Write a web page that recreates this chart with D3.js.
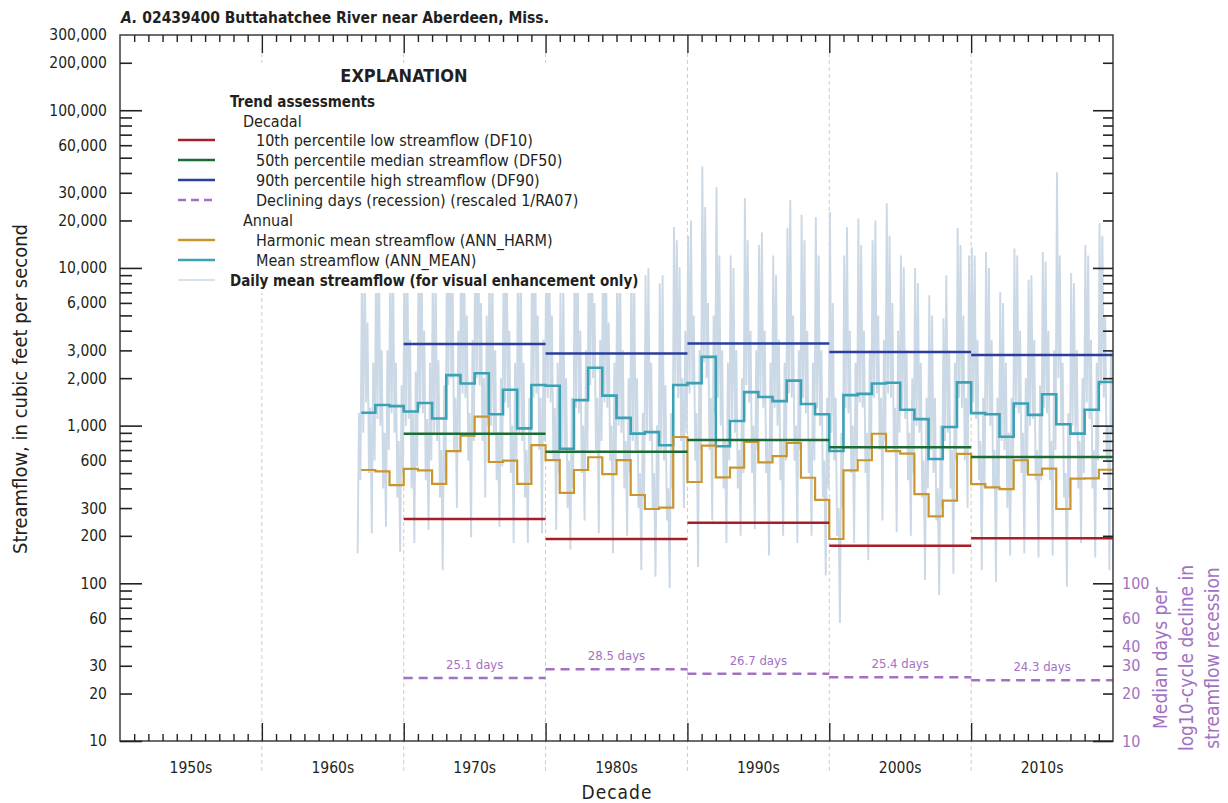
<!DOCTYPE html>
<html>
<head>
<meta charset="utf-8">
<script src="https://cdn.jsdelivr.net/npm/d3@7"></script>
<style>
  body { margin: 0; background: #fff; }
  svg text { font-family: 'Liberation Sans Narrow', 'Arial Narrow', 'DejaVu Sans Condensed', sans-serif; fill: #231f20; }
</style>
</head>
<body>
<div id="chart"></div>
<script>
// decade labels along the bottom
var decadeLabels = ["1950s", "1960s", "1970s", "1980s", "1990s", "2000s", "2010s"];
var decadeStarts = [1950, 1960, 1970, 1980, 1990, 2000, 2010, 2020];

// decadal trend values (1970s..2010s)
var trendDecades = [1970, 1980, 1990, 2000, 2010];
var df10 = [256, 191, 242, 173, 193];
var df50 = [888, 683, 810, 729, 632];
var df90 = [3290, 2870, 3320, 2930, 2800];
var declDays = [25.1, 28.5, 26.7, 25.4, 24.3];

// annual values, 1967..2019
var annYears = d3.range(1967, 2020);
var annMean = [1207, 1350, 1330, 1230, 1390, 1110, 2090, 1850, 2150, 1180, 1690, 960, 1810,
    1790, 714, 1450, 2330, 1550, 1120, 890, 910, 750, 1810,
    1860, 2730, 740, 1070, 1630, 1520, 1430, 1930, 1370, 1180,
    690, 1560, 1590, 1850, 1870, 1260, 1100, 614, 980, 1880,
    1200, 1180, 850, 1380, 1170, 1580, 1020, 890, 1260, 1890];
var annHarm = [523, 513, 420, 531, 520, 427, 690, 863, 1140, 588, 600, 427, 753,
    605, 375, 523, 630, 493, 605, 363, 296, 302, 847,
    439, 746, 470, 541, 787, 585, 641, 776, 467, 338,
    191, 520, 603, 888, 690, 664, 368, 266, 334, 661,
    425, 406, 396, 603, 488, 533, 296, 461, 463, 525];

// daily mean streamflow, thinned: year, then 10 readings through the year (peaks and troughs)
var dailyRows = [
    [1966, null, null, null, null, null, null, null, 155, 1200, 450],
    [1967, 9000, 900, 12000, 1400, 4500, 500, 1300, 208, 2500, 600],
    [1968, 11000, 1100, 15000, 1000, 3000, 400, 900, 228, 3000, 700],
    [1969, 10000, 1200, 12000, 900, 2500, 350, 800, 158, 1800, 500],
    [1970, 12000, 1000, 14000, 1100, 3500, 400, 1200, 180, 2200, 550],
    [1971, 13000, 1300, 16000, 1200, 4000, 450, 1100, 218, 2500, 600],
    [1972, 9000, 900, 11000, 800, 2600, 350, 700, 121, 1800, 450],
    [1973, 18000, 1800, 25000, 2000, 8000, 700, 1500, 300, 4000, 900],
    [1974, 20000, 1600, 16000, 1500, 5000, 600, 1200, 196, 3500, 800],
    [1975, 22000, 2000, 24000, 1800, 6000, 800, 2000, 350, 5000, 1000],
    [1976, 12000, 1000, 10000, 900, 3000, 450, 900, 228, 2000, 550],
    [1977, 15000, 1400, 20000, 1300, 4000, 500, 1000, 180, 2500, 600],
    [1978, 10000, 900, 12000, 800, 2500, 350, 700, 180, 1500, 450],
    [1979, 18000, 1500, 22000, 1600, 5000, 700, 1500, 208, 3500, 800],
    [1980, 16000, 1500, 20000, 1400, 5000, 600, 1300, 218, 2500, 500],
    [1981, 7000, 700, 9000, 700, 2000, 300, 600, 164, 1500, 400],
    [1982, 14000, 1300, 15000, 1200, 4000, 500, 1000, 250, 3000, 700],
    [1983, 20000, 1800, 25000, 2000, 6000, 700, 1500, 208, 3500, 800],
    [1984, 15000, 1400, 18000, 1300, 4500, 600, 1000, 155, 2500, 600],
    [1985, 10000, 1000, 12000, 900, 3000, 400, 800, 200, 2000, 500],
    [1986, 12400, 800, 9000, 700, 2000, 300, 500, 121, 1200, 350],
    [1987, 9000, 900, 10000, 800, 2500, 300, 500, 110, 1000, 300],
    [1988, 8000, 700, 9000, 600, 1800, 250, 400, 93, 1200, 400],
    [1989, 18200, 1800, 15000, 1500, 10100, 800, 2000, 300, 4000, 900],
    [1990, 16000, 1600, 20000, 1800, 5000, 600, 1200, 127, 3000, 700],
    [1991, 44000, 2500, 24300, 2000, 6000, 700, 1500, 250, 5000, 1200],
    [1992, 32600, 1500, 12000, 1000, 3000, 400, 800, 180, 2500, 600],
    [1993, 12000, 1100, 10000, 900, 3000, 400, 700, 200, 2000, 500],
    [1994, 27700, 1800, 15000, 1400, 4000, 500, 1000, 220, 3000, 700],
    [1995, 14000, 1500, 16800, 1300, 4000, 500, 800, 150, 2500, 600],
    [1996, 12000, 1300, 9000, 1000, 3500, 450, 800, 200, 2500, 600],
    [1997, 18000, 1600, 27000, 1500, 5000, 600, 1000, 180, 3000, 700],
    [1998, 21700, 1500, 15000, 1200, 4000, 500, 800, 200, 2500, 600],
    [1999, 21000, 1300, 12000, 1000, 3000, 350, 600, 112, 1500, 400],
    [2000, 22600, 900, 6000, 600, 1500, 200, 300, 56, 900, 300],
    [2001, 12000, 1300, 18200, 1200, 4000, 500, 1000, 180, 2500, 600],
    [2002, 20600, 1400, 14000, 1300, 4000, 500, 900, 140, 3000, 700],
    [2003, 15000, 1500, 20000, 1600, 5000, 700, 1500, 250, 3500, 800],
    [2004, 25700, 1600, 16000, 1500, 6000, 700, 1300, 211, 4000, 900],
    [2005, 12000, 1300, 10100, 1100, 3000, 450, 900, 200, 2000, 500],
    [2006, 10000, 1000, 8000, 900, 2500, 350, 600, 105, 1500, 400],
    [2007, 6700, 700, 5000, 500, 1500, 250, 400, 84, 1000, 300],
    [2008, 4800, 800, 9000, 900, 3000, 400, 700, 115, 2500, 600],
    [2009, 17900, 1500, 14000, 1300, 5000, 600, 1500, 300, 12000, 1200],
    [2010, 13500, 1400, 12000, 1100, 3500, 450, 800, 121, 1500, 400],
    [2011, 12600, 1200, 10000, 1000, 3500, 400, 700, 102, 1500, 400],
    [2012, 7000, 800, 6000, 700, 2500, 300, 900, 150, 1500, 400],
    [2013, 13300, 1300, 12000, 1200, 4000, 500, 900, 155, 2000, 500],
    [2014, 8400, 1000, 9000, 1100, 3500, 450, 700, 146, 1800, 450],
    [2015, 12600, 1300, 11000, 1200, 4000, 450, 800, 150, 3000, 700],
    [2016, 40500, 2000, 12000, 1000, 2500, 350, 500, 95, 1200, 350],
    [2017, 9300, 1000, 8000, 900, 3000, 400, 800, 180, 2000, 500],
    [2018, 14000, 1400, 12000, 1100, 3500, 400, 700, 146, 2500, 600],
    [2019, 19200, 1800, 16000, 1500, 5000, 600, 1000, 121, 3000, 900]
];

// tick values for the log axis
var yLabelTicks = [10, 20, 30, 60, 100, 200, 300, 600, 1000, 2000, 3000, 6000, 10000, 20000, 30000, 60000, 100000, 200000, 300000];
var yMajorTicks = [10, 100, 1000, 10000, 100000];
var yMinorTicks = [20, 30, 40, 50, 60, 70, 80, 90, 200, 300, 400, 500, 600, 700, 800, 900,
    2000, 3000, 4000, 5000, 6000, 7000, 8000, 9000, 20000, 30000, 40000, 50000, 60000, 70000, 80000, 90000, 200000];
var daysTicks = [10, 20, 30, 40, 60, 100];

var w = 1228, h = 803;
var plotL = 120, plotR = 1113, plotT = 35, plotB = 741;

var red = "#a81d26", green = "#1b6b35", blue = "#2b3e9c", purple = "#a272c2",
    gold = "#c9952f", teal = "#3ba1b5", daily = "#cbd8e5", axisCol = "#3c3c3c";

var xScale = d3.scaleLinear().domain([1950, 2020]).range([plotL, plotR]);
var yScale = d3.scaleLog().domain([10, 300000]).range([plotB, plotT]);

var svg = d3.select("#chart").append("svg")
    .attr("width", w)
    .attr("height", h);

// decade dividers (dashed)
svg.append("g").selectAll("line")
    .data(decadeStarts.slice(1, 7))
    .enter()
    .append("line")
    .attr("x1", function (d) { return xScale(d); })
    .attr("x2", function (d) { return xScale(d); })
    .attr("y1", plotT + 18)
    .attr("y2", plotB + 31)
    .attr("stroke", "#e2c6b6")
    .attr("stroke-width", 1)
    .attr("stroke-dasharray", "4,3");

// daily streamflow
var dailyPts = [];
dailyRows.forEach(function (r) {
    for (var i = 1; i < r.length; i++) {
        dailyPts.push({t: r[0] + (i - 0.5) / 10, v: r[i]});
    }
});
svg.append("path")
    .datum(dailyPts)
    .attr("fill", "none")
    .attr("stroke", daily)
    .attr("stroke-width", 1.9)
    .attr("stroke-linejoin", "bevel")
    .attr("d", d3.line()
        .defined(function (d) { return d.v != null; })
        .x(function (d) { return xScale(d.t); })
        .y(function (d) { return yScale(d.v); }));

// white box behind the explanation
svg.append("rect")
    .attr("x", 168).attr("y", 63)
    .attr("width", 474).attr("height", 230)
    .attr("fill", "#fff");

// annual step lines
function stepData(vals) {
    var pts = annYears.map(function (y, i) { return {t: y, v: vals[i]}; });
    pts.push({t: annYears[annYears.length - 1] + 1, v: vals[vals.length - 1]});
    return pts;
}
var stepLine = d3.line()
    .curve(d3.curveStepAfter)
    .x(function (d) { return xScale(d.t); })
    .y(function (d) { return yScale(d.v); });

svg.append("path").datum(stepData(annMean))
    .attr("fill", "none").attr("stroke", teal).attr("stroke-width", 2.6)
    .attr("d", stepLine);
svg.append("path").datum(stepData(annHarm))
    .attr("fill", "none").attr("stroke", gold).attr("stroke-width", 2.2)
    .attr("d", stepLine);

// decadal trend lines
function decadal(vals, col, dash) {
    svg.append("g").selectAll("line")
        .data(vals)
        .enter()
        .append("line")
        .attr("x1", function (d, i) { return xScale(trendDecades[i]); })
        .attr("x2", function (d, i) { return xScale(trendDecades[i] + 10); })
        .attr("y1", function (d) { return yScale(d); })
        .attr("y2", function (d) { return yScale(d); })
        .attr("stroke", col)
        .attr("stroke-width", 2.5)
        .attr("stroke-dasharray", dash);
}
decadal(df10, red, null);
decadal(df50, green, null);
decadal(df90, blue, null);
decadal(declDays, purple, "9,6");

svg.append("g").selectAll("text")
    .data(declDays)
    .enter()
    .append("text")
    .text(function (d) { return d.toFixed(1) + " days"; })
    .attr("text-anchor", "middle")
    .attr("x", function (d, i) { return xScale(trendDecades[i] + 5); })
    .attr("y", function (d) { return yScale(d) - 9; })
    .attr("font-size", "13px")
    .style("fill", purple);

// frame
svg.append("rect")
    .attr("x", plotL).attr("y", plotT)
    .attr("width", plotR - plotL).attr("height", plotB - plotT)
    .attr("fill", "none")
    .attr("stroke", axisCol)
    .attr("stroke-width", 1.5);

// y ticks, inside on both sides
function yTicks(x, vals, len, side) {
    var ax = side === "left" ? d3.axisRight(yScale) : d3.axisLeft(yScale);
    svg.append("g")
        .attr("transform", "translate(" + x + ",0)")
        .call(ax.tickValues(vals).tickSize(len).tickFormat(""))
        .call(function (g) {
            g.select(".domain").remove();
            g.selectAll("line").attr("stroke", "#222").attr("stroke-width", 1.6);
        });
}
yTicks(plotL, yMajorTicks, 22, "left");
yTicks(plotL, yMinorTicks, 12, "left");
yTicks(plotR, yMajorTicks, 20, "right");
yTicks(plotR, yMinorTicks, 10, "right");

// y labels
svg.append("g")
    .attr("transform", "translate(" + plotL + ",0)")
    .call(d3.axisLeft(yScale).tickValues(yLabelTicks).tickSize(0).tickPadding(13)
        .tickFormat(d3.format(",")))
    .call(function (g) {
        g.select(".domain").remove();
        g.selectAll("text").attr("font-size", "15.5px").style("font-family", null);
    });

// right labels, days
svg.append("g")
    .attr("transform", "translate(" + plotR + ",0)")
    .call(d3.axisRight(yScale).tickValues(daysTicks).tickSize(0).tickPadding(9)
        .tickFormat(d3.format("d")))
    .call(function (g) {
        g.select(".domain").remove();
        g.selectAll("text").attr("font-size", "16px").style("fill", purple).style("font-family", null);
    });

// x ticks, bottom and top
var yearTicks = d3.range(1951, 2020).filter(function (d) { return d % 10 !== 0; });
function xTicks(axis, y, vals, len) {
    svg.append("g")
        .attr("transform", "translate(0," + y + ")")
        .call(axis(xScale).tickValues(vals).tickSize(len).tickFormat(""))
        .call(function (g) {
            g.select(".domain").remove();
            g.selectAll("line").attr("stroke", "#222").attr("stroke-width", 1.4);
        });
}
xTicks(d3.axisBottom, plotB, yearTicks, -7);
xTicks(d3.axisBottom, plotB, decadeStarts.slice(1, 7), -18);
xTicks(d3.axisTop, plotT, yearTicks, -7);
xTicks(d3.axisTop, plotT, decadeStarts.slice(1, 7), -18);

// decade labels
svg.append("g").selectAll("text")
    .data(decadeLabels)
    .enter()
    .append("text")
    .text(function (d) { return d; })
    .attr("text-anchor", "middle")
    .attr("x", function (d, i) { return xScale(decadeStarts[i] + 5); })
    .attr("y", 773)
    .attr("font-size", "15.5px");

// axis titles
svg.append("text")
    .text("Decade")
    .attr("text-anchor", "middle")
    .attr("x", 617).attr("y", 799)
    .attr("font-size", "19px")
    .attr("letter-spacing", "1px");

svg.append("text")
    .text("Streamflow, in cubic feet per second")
    .attr("text-anchor", "middle")
    .attr("transform", "translate(27,389) rotate(-90)")
    .attr("font-size", "20px");

svg.append("g").selectAll("text")
    .data(["Median days per", "log10-cycle decline in", "streamflow recession"])
    .enter()
    .append("text")
    .text(function (d) { return d; })
    .attr("text-anchor", "middle")
    .attr("transform", function (d, i) { return "translate(" + (1167 + i * 26) + ",658) rotate(-90)"; })
    .attr("font-size", "19px")
    .style("fill", purple);

// title
var title = svg.append("text")
    .attr("x", 121).attr("y", 23)
    .attr("font-size", "15.5px")
    .attr("font-weight", "bold");
title.append("tspan").attr("font-style", "italic").text("A.");
title.append("tspan").text(" 02439400 Buttahatchee River near Aberdeen, Miss.");

// explanation
svg.append("text").text("EXPLANATION")
    .attr("x", 404).attr("y", 82).attr("text-anchor", "middle")
    .attr("font-size", "18px").attr("font-weight", "bold");
svg.append("text").text("Trend assessments")
    .attr("x", 230).attr("y", 107).attr("font-size", "15px").attr("font-weight", "bold");
svg.append("text").text("Decadal")
    .attr("x", 243).attr("y", 127).attr("font-size", "16px");
svg.append("text").text("Annual")
    .attr("x", 243).attr("y", 226).attr("font-size", "16px");

var legendItems = [
    {label: "10th percentile low streamflow (DF10)", col: red, y: 140},
    {label: "50th percentile median streamflow (DF50)", col: green, y: 160},
    {label: "90th percentile high streamflow (DF90)", col: blue, y: 180},
    {label: "Declining days (recession) (rescaled 1/RA07)", col: purple, y: 200, dash: "8,5"},
    {label: "Harmonic mean streamflow (ANN_HARM)", col: gold, y: 240},
    {label: "Mean streamflow (ANN_MEAN)", col: teal, y: 260}
];
var leg = svg.append("g").selectAll("g")
    .data(legendItems)
    .enter()
    .append("g");
leg.append("line")
    .attr("x1", 178).attr("x2", 215)
    .attr("y1", function (d) { return d.y; })
    .attr("y2", function (d) { return d.y; })
    .attr("stroke", function (d) { return d.col; })
    .attr("stroke-width", 2.4)
    .attr("stroke-dasharray", function (d) { return d.dash || null; });
leg.append("text")
    .text(function (d) { return d.label; })
    .attr("x", 256)
    .attr("y", function (d) { return d.y + 6; })
    .attr("font-size", "16px");

svg.append("line")
    .attr("x1", 178).attr("x2", 215).attr("y1", 280).attr("y2", 280)
    .attr("stroke", daily).attr("stroke-width", 1.5);
svg.append("text").text("Daily mean streamflow (for visual enhancement only)")
    .attr("x", 230).attr("y", 286).attr("font-size", "15px").attr("font-weight", "bold");
</script>
</body>
</html>
